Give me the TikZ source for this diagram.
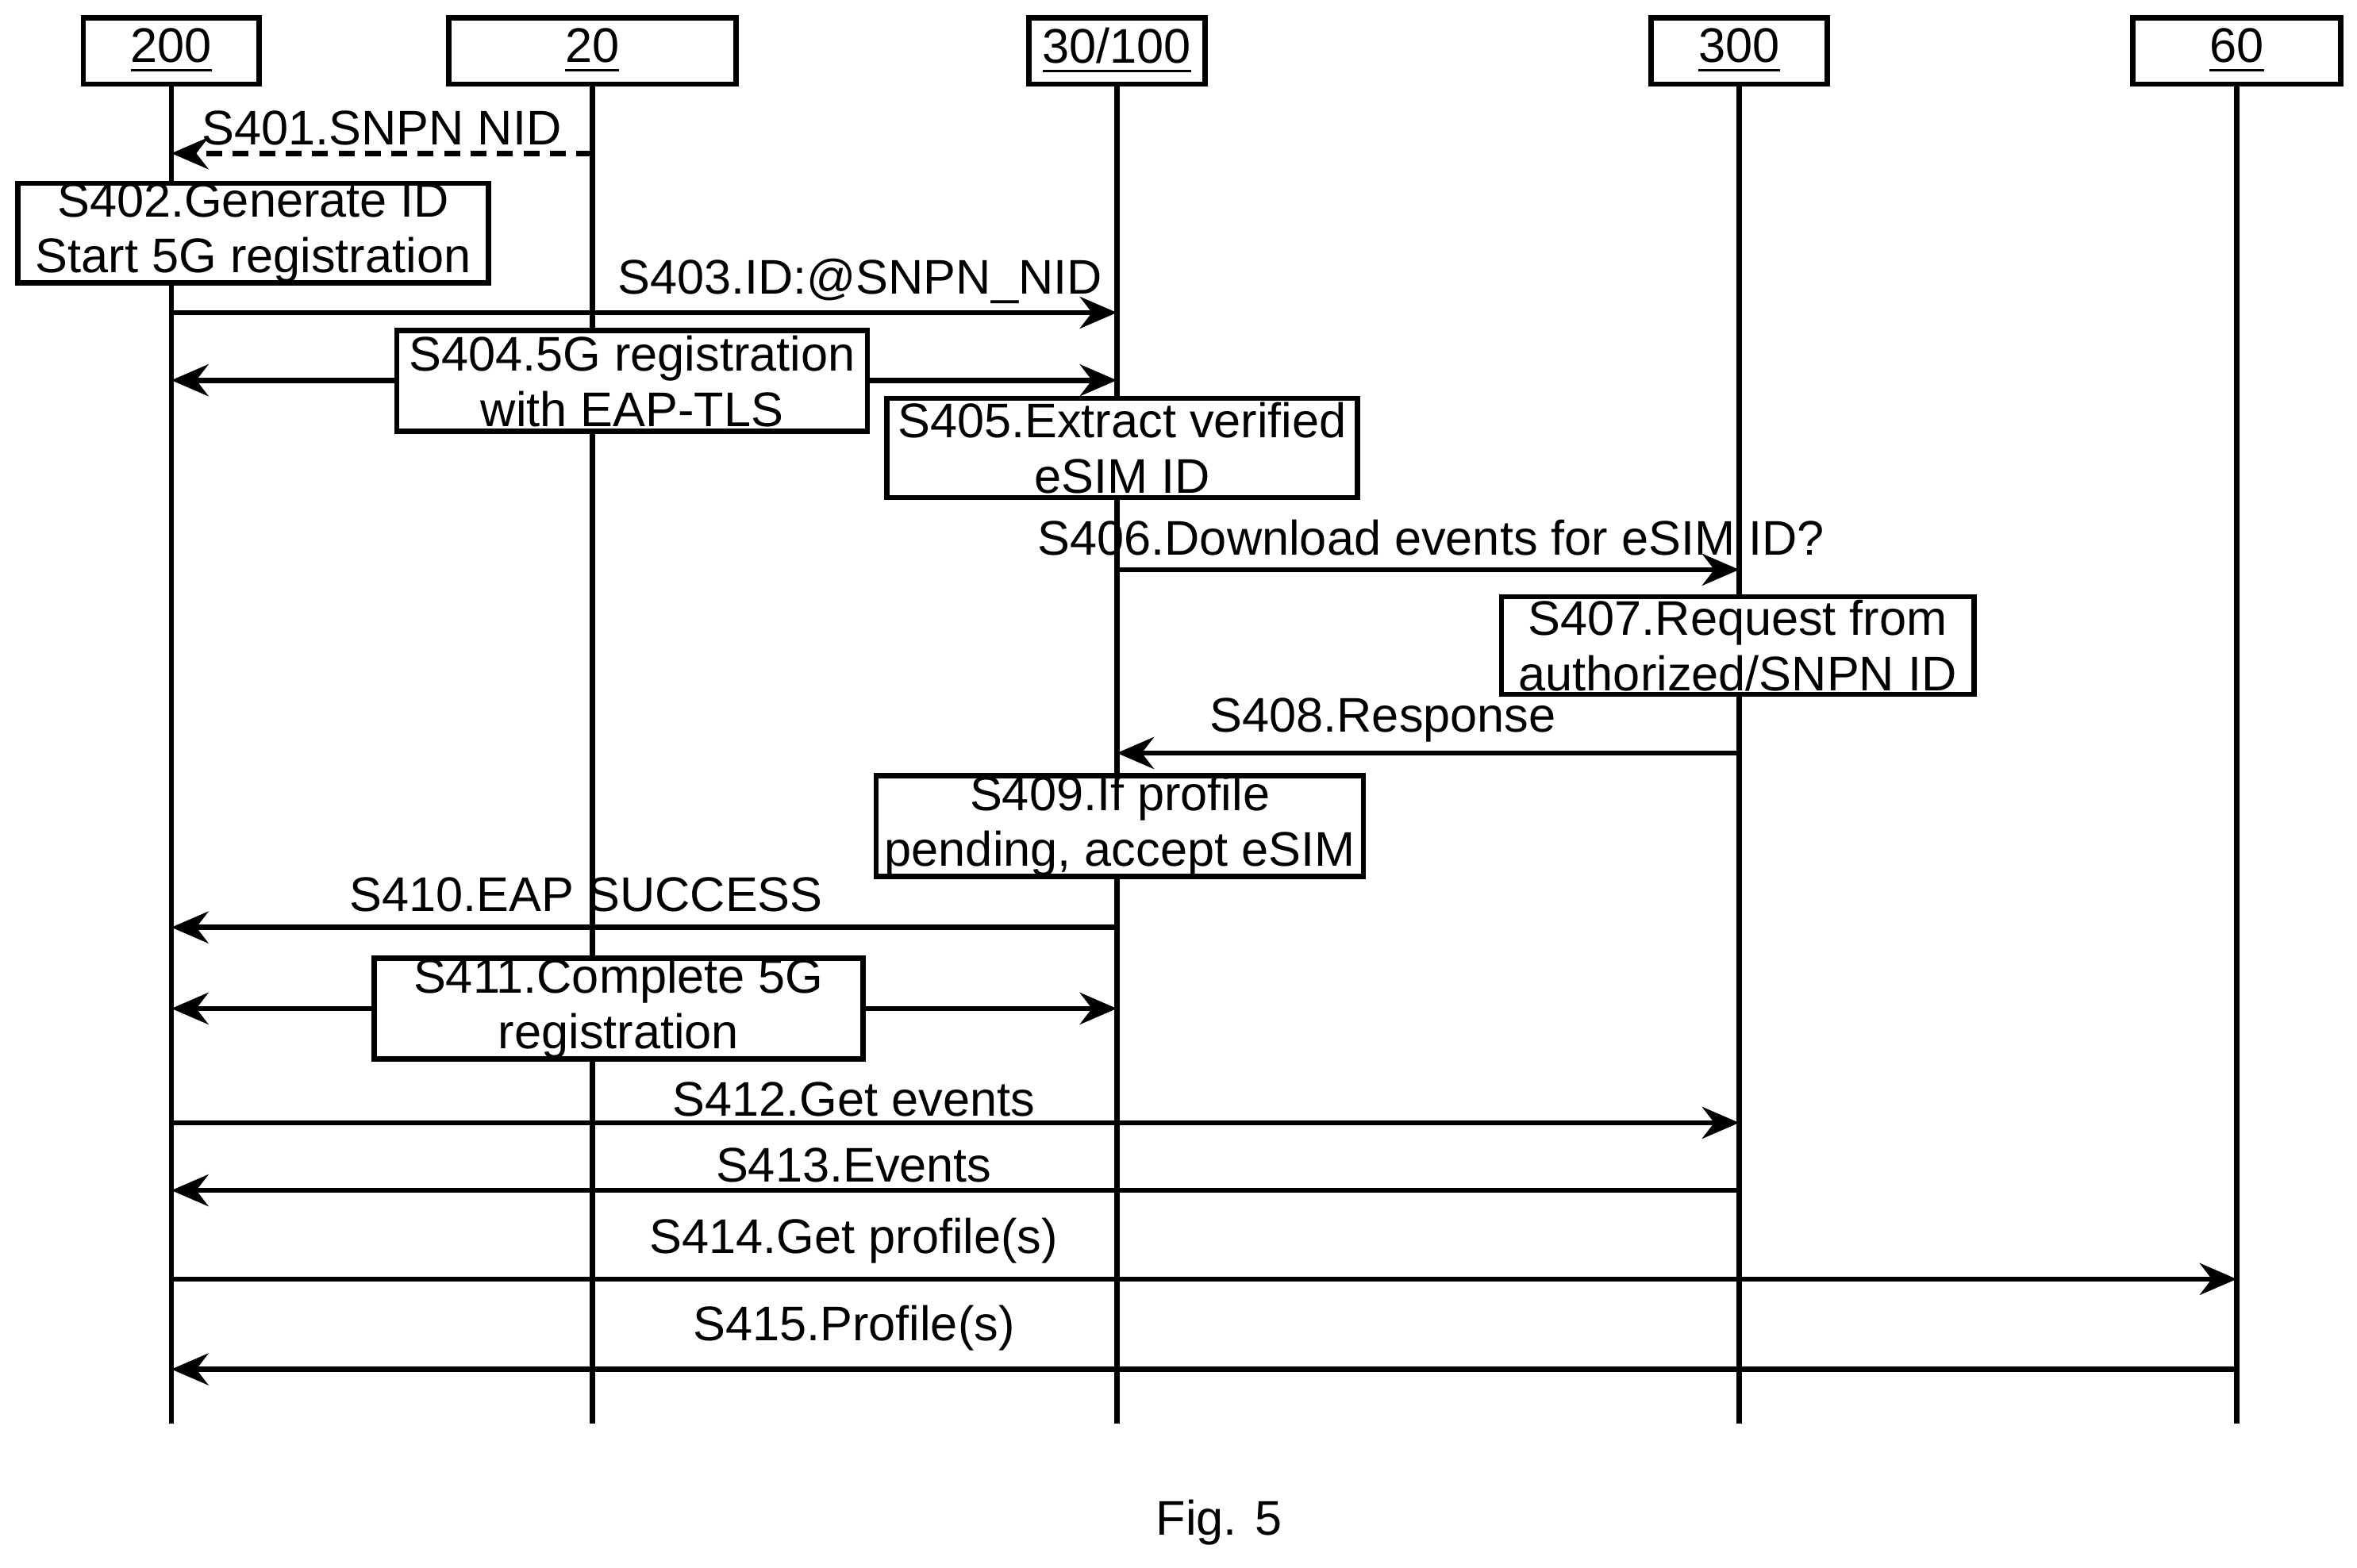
\documentclass[tikz,border=0pt]{standalone}
\usepackage{fontspec}
\setmainfont{Liberation Sans}
\usetikzlibrary{arrows.meta}
\begin{document}
\begin{tikzpicture}[x=0.01cm,y=-0.01cm,
 every node/.style={font=\fontsize{9.2pt}{10.5pt}\selectfont},
 hd/.style={draw,line width=1pt,minimum height=0.44cm,inner sep=0pt},
 bx/.style={draw,line width=1pt,fill=white,align=center,inner sep=0pt},
 life/.style={line width=1pt},
 msg/.style={line width=1pt,-{Stealth[length=7pt,width=6pt]}},
 lbl/.style={inner sep=1pt}]
\useasboundingbox (0,0) rectangle (1568,1043);
% lifelines
\foreach \n/\x in {a/114,b/394,c/743,d/1157,e/1488}{
 \coordinate (\n t) at (\x,56); \coordinate (\n b) at (\x,947);
 \draw[life] (\n t) -- (\n b);}
% headers
\node[hd,fill=white,minimum width=1.17cm] (h200) at (114,34) {\underline{200}};
\node[hd,fill=white,minimum width=1.91cm] (h20) at (394,34) {\underline{20}};
\node[hd,fill=white,minimum width=1.17cm] (h30) at (743,34) {\underline{30/100}};
\node[hd,fill=white,minimum width=1.17cm] (h300) at (1157,34) {\underline{300}};
\node[hd,fill=white,minimum width=1.38cm] (h60) at (1488,34) {\underline{60}};
% coordinates for messages
\coordinate (a1) at (114,102); \coordinate (b1) at (394,102);
\draw[msg,densely dashed] (b1) -- (a1) node[lbl,midway,above] {S401.SNPN NID};
\node[bx,minimum width=3.13cm,minimum height=0.66cm] (s402) at (168.5,155) {S402.Generate ID\\Start 5G registration};
\coordinate (a3) at (114,208); \coordinate (c3) at (743,208);
\draw[msg] (a3) -- (c3);
\node[lbl,anchor=south] (l403) at (572,206) {S403.ID:@SNPN\_NID};
\coordinate (a4) at (114,253); \coordinate (c4) at (743,253);
\draw[msg,{Stealth[length=7pt,width=6pt]}-{Stealth[length=7pt,width=6pt]}] (a4) -- (c4);
\node[bx,minimum width=3.13cm,minimum height=0.67cm] (s404) at (420.5,253.5) {S404.5G registration\\with EAP-TLS};
\node[bx,minimum width=3.13cm,minimum height=0.66cm] (s405) at (746.5,298) {S405.Extract verified\\eSIM ID};
\coordinate (c6) at (743,379); \coordinate (d6) at (1157,379);
\draw[msg] (c6) -- (d6);
\node[lbl,anchor=south] (l406) at (952,374) {S406.Download events for eSIM ID?};
\node[bx,minimum width=3.14cm,minimum height=0.65cm] (s407) at (1156,429.5) {S407.Request from\\authorized/SNPN ID};
\coordinate (d8) at (1157,501); \coordinate (c8) at (743,501);
\draw[msg] (d8) -- (c8);
\node[lbl,anchor=south] (l408) at (920,498) {S408.Response};
\node[bx,minimum width=3.24cm,minimum height=0.65cm] (s409) at (745,549.5) {S409.If profile\\pending, accept eSIM};
\coordinate (c10) at (743,617); \coordinate (a10) at (114,617);
\draw[msg] (c10) -- (a10);
\node[lbl,anchor=south] (l410) at (390,611) {S410.EAP SUCCESS};
\coordinate (a11) at (114,671); \coordinate (c11) at (743,671);
\draw[msg,{Stealth[length=7pt,width=6pt]}-{Stealth[length=7pt,width=6pt]}] (a11) -- (c11);
\node[bx,minimum width=3.25cm,minimum height=0.66cm] (s411) at (411.5,671) {S411.Complete 5G\\registration};
\coordinate (a12) at (114,747); \coordinate (d12) at (1157,747);
\draw[msg] (a12) -- (d12);
\node[lbl,anchor=south] (l412) at (568,747) {S412.Get events};
\coordinate (d13) at (1157,792); \coordinate (a13) at (114,792);
\draw[msg] (d13) -- (a13);
\node[lbl,anchor=south] (l413) at (568,791) {S413.Events};
\coordinate (a14) at (114,851); \coordinate (e14) at (1488,851);
\draw[msg] (a14) -- (e14);
\node[lbl,anchor=south] (l414) at (568,845) {S414.Get profile(s)};
\coordinate (e15) at (1488,911); \coordinate (a15) at (114,911);
\draw[msg] (e15) -- (a15);
\node[lbl,anchor=south] (l415) at (568,903) {S415.Profile(s)};
\node (fig) at (811,1013) {Fig. 5};
\end{tikzpicture}
\end{document}
